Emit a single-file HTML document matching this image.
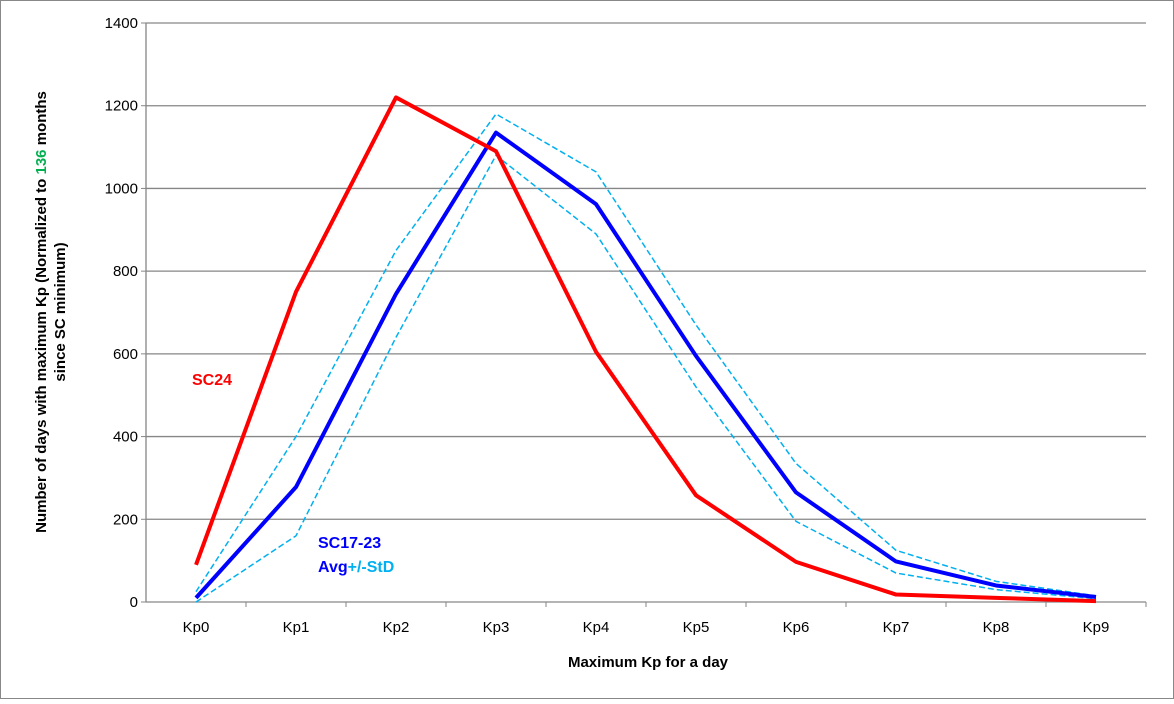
<!DOCTYPE html>
<html><head><meta charset="utf-8"><style>
body{margin:0;background:#fff;font-family:"Liberation Sans",Arial,sans-serif}
svg text{font-family:"Liberation Sans",Arial,sans-serif}
</style></head><body>
<svg id="chart" width="1174" height="699">
<rect x="0.5" y="0.5" width="1173" height="698" fill="#fff" stroke="#888"/>
<g id="grid"></g><g id="series"></g><g id="ticks"></g>
<text x="648" y="667" text-anchor="middle" font-size="15" font-weight="bold">Maximum Kp for a day</text>
<text transform="translate(50,312) rotate(-90)" text-anchor="middle" font-size="15" font-weight="bold"><tspan x="0" y="-4">Number of days with maximum Kp (Normalized to <tspan fill="#00b050">136</tspan> months</tspan><tspan x="0" y="15">since SC minimum)</tspan></text>
<text x="192" y="385" fill="#ff0000" font-size="16" font-weight="bold">SC24</text>
<text x="318" y="548" fill="#0000ff" font-size="16" font-weight="bold">SC17-23</text>
<text x="318" y="572" font-size="16" font-weight="bold"><tspan fill="#0000ff">Avg</tspan><tspan fill="#00b0f0">+/-StD</tspan></text>
</svg>
<script>
const categories=["Kp0","Kp1","Kp2","Kp3","Kp4","Kp5","Kp6","Kp7","Kp8","Kp9"];
const sc24=[90,750,1220,1090,605,258,97,18,10,2];
const avg=[10,278,745,1135,962,595,265,98,40,12];
const upper=[25,400,850,1180,1040,670,335,125,50,15];
const lower=[0,160,640,1080,890,520,195,70,30,8];
const yTicks=[0,200,400,600,800,1000,1200,1400];
const NS="http://www.w3.org/2000/svg";
const x0=146,x1=1146,yTop=23,yBot=602,yMax=1400;
const xs=i=>x0+(x1-x0)/categories.length*(i+0.5);
const ys=v=>yBot-(yBot-yTop)*v/yMax;
function mk(tag,attrs,parent){const e=document.createElementNS(NS,tag);for(const k in attrs)e.setAttribute(k,attrs[k]);document.getElementById(parent).appendChild(e);return e;}
yTicks.forEach(v=>{
 const l=mk('line',{x1:x0,x2:x1,y1:ys(v),y2:ys(v),stroke:'#868686','stroke-width':1.3},'grid');
 
 
 const t=mk('text',{x:x0-8,y:ys(v)+5,'text-anchor':'end','font-size':15},'ticks');
 t.textContent=v;
 
 
 const tm=mk('line',{x1:x0-5,x2:x0,y1:ys(v),y2:ys(v),stroke:'#868686'},'grid');
 
 
});
const ax=mk('line',{x1:x0,x2:x0,y1:yTop,y2:yBot,stroke:'#868686','stroke-width':1.3},'grid');


categories.forEach((c,i)=>{
 const t=mk('text',{x:xs(i),y:yBot+30,'text-anchor':'middle','font-size':15},'ticks');
 t.textContent=c;
 
 
 const xb=x0+(x1-x0)/categories.length*(i+1);
 const m=mk('line',{x1:xb,x2:xb,y1:yBot,y2:yBot+5,stroke:'#868686'},'grid');
 
 
});
function line(data,color,w,dash,name){
 const p=mk('polyline',{points:data.map((v,i)=>xs(i)+','+ys(v)).join(' '),fill:'none',stroke:color,'stroke-width':w,'stroke-dasharray':dash,'stroke-linejoin':'round'},'series');
 
 
}
line(upper,'#00b0f0',1.5,'6,3','line-avg-plus-std');
line(lower,'#00b0f0',1.5,'6,3','line-avg-minus-std');
line(avg,'#0000ff',4,'none','line-sc17-23-avg');
line(sc24,'#ff0000',4,'none','line-sc24');
</script>
</body></html>
